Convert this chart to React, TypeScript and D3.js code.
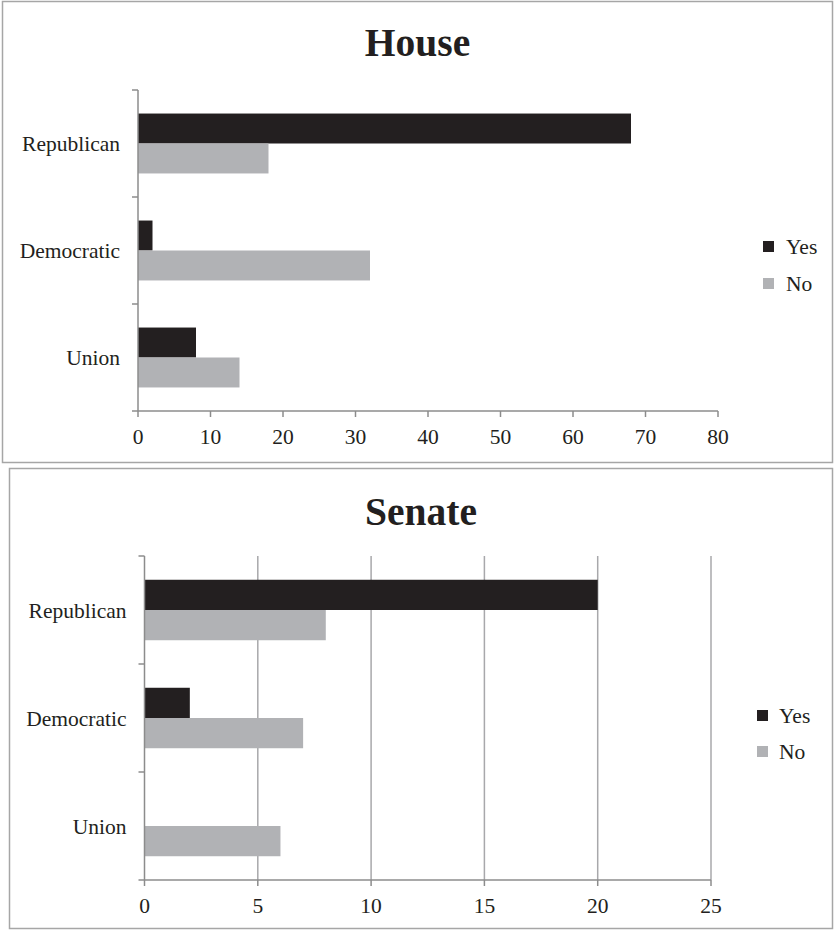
import React from "react";
import * as d3 from "d3";

const categories = ["Republican", "Democratic", "Union"];
const seriesNames = ["Yes", "No"];
const houseYes = [68, 2, 8];
const houseNo = [18, 32, 14];
const senateYes = [20, 2, 0];
const senateNo = [8, 7, 6];
const houseTicks = [0, 10, 20, 30, 40, 50, 60, 70, 80];
const senateTicks = [0, 5, 10, 15, 20, 25];

const YES_COLOR = "#231f20";
const NO_COLOR = "#b1b2b5";
const AXIS_COLOR = "#8c8c8c";
const GRID_COLOR = "#a8a8ab";
const TEXT_COLOR = "#231f20";
const FONT = "Times New Roman, Liberation Serif, serif";

type PanelProps = {
  title: string;
  yes: number[];
  no: number[];
  ticks: number[];
  box: { x: number; y: number; w: number; h: number };
  xRange: [number, number];
  yRange: [number, number];
  titleY: number;
  grid: boolean;
  legend: { sx: number; tx: number; y0: number; dy: number };
};

function Panel(p: PanelProps) {
  const x = d3.scaleLinear().domain([p.ticks[0], p.ticks[p.ticks.length - 1]]).range(p.xRange);
  const y = d3.scaleBand<string>().domain(categories).range(p.yRange).paddingInner(0.44).paddingOuter(0.22);
  const step = y.step();
  const bw = y.bandwidth() / 2;
  const values = [p.yes, p.no];
  const colors = [YES_COLOR, NO_COLOR];
  const x0 = x(0);
  const boundaries = d3.range(categories.length + 1).map((i) => p.yRange[0] + i * step);
  const cx = (p.box.x + p.box.x + p.box.w) / 2;
  const textStyle = { fontFamily: FONT, fontSize: "21.5px" };
  return (
    <g>
      <rect x={p.box.x} y={p.box.y} width={p.box.w} height={p.box.h} fill="#fff" stroke="#a6a6a6" strokeWidth={1.5} />
      <text x={cx} y={p.titleY} textAnchor="middle" style={{ fontFamily: FONT, fontSize: "39.5px", fontWeight: "bold" }} fill={TEXT_COLOR}>
        {p.title}
      </text>
      {p.grid &&
        p.ticks.slice(1).map((t) => (
          <line key={"g" + t} x1={x(t)} x2={x(t)} y1={p.yRange[0]} y2={p.yRange[1]} stroke={GRID_COLOR} strokeWidth={1.5} />
        ))}
      {categories.map((c, i) =>
        values.map((vals, s) => (
          <rect
            key={c + s}
            x={x0}
            y={(y(c) as number) + s * bw}
            width={x(vals[i]) - x0}
            height={bw}
            fill={colors[s]}
          />
        ))
      )}
      <line x1={x0} x2={x0} y1={p.yRange[0]} y2={p.yRange[1]} stroke={AXIS_COLOR} strokeWidth={1.5} />
      {boundaries.map((b, i) => (
        <line key={"yt" + i} x1={x0 - 6} x2={x0} y1={b} y2={b} stroke={AXIS_COLOR} strokeWidth={1.5} />
      ))}
      {categories.map((c) => (
        <text
          key={"yl" + c}
          x={x0 - 18}
          y={(y(c) as number) + y.bandwidth() / 2}
          dy="0.35em"
          textAnchor="end"
          style={textStyle}
          fill={TEXT_COLOR}
        >
          {c}
        </text>
      ))}
      <line x1={x0} x2={p.xRange[1]} y1={p.yRange[1]} y2={p.yRange[1]} stroke={AXIS_COLOR} strokeWidth={1.5} />
      {p.ticks.map((t) => (
        <g key={"xt" + t}>
          <line x1={x(t)} x2={x(t)} y1={p.yRange[1]} y2={p.yRange[1] + 6} stroke={AXIS_COLOR} strokeWidth={1.5} />
          <text x={x(t)} y={p.yRange[1] + 33} textAnchor="middle" style={textStyle} fill={TEXT_COLOR}>
            {t}
          </text>
        </g>
      ))}
      {seriesNames.map((n, i) => (
        <g key={"lg" + n}>
          <rect x={p.legend.sx} y={p.legend.y0 + i * p.legend.dy - 5.5} width={11} height={11} fill={colors[i]} />
          <text x={p.legend.tx} y={p.legend.y0 + i * p.legend.dy} dy="0.35em" style={textStyle} fill={TEXT_COLOR}>
            {n}
          </text>
        </g>
      ))}
    </g>
  );
}

export default function App() {
  return (
    <svg width={834} height={930} style={{ position: "absolute", left: 0, top: 0, display: "block" }}>
      <rect x={0} y={0} width={834} height={930} fill="#fff" />
      <Panel
        title="House"
        yes={houseYes}
        no={houseNo}
        ticks={houseTicks}
        box={{ x: 2.5, y: 1.5, w: 830, h: 461 }}
        xRange={[138, 718]}
        yRange={[90, 411]}
        titleY={56}
        grid={false}
        legend={{ sx: 763, tx: 786, y0: 246.5, dy: 37 }}
      />
      <Panel
        title="Senate"
        yes={senateYes}
        no={senateNo}
        ticks={senateTicks}
        box={{ x: 9.5, y: 468.5, w: 823, h: 460 }}
        xRange={[144.5, 711]}
        yRange={[556, 880]}
        titleY={525}
        grid={true}
        legend={{ sx: 757, tx: 779, y0: 715.5, dy: 36 }}
      />
    </svg>
  );
}
